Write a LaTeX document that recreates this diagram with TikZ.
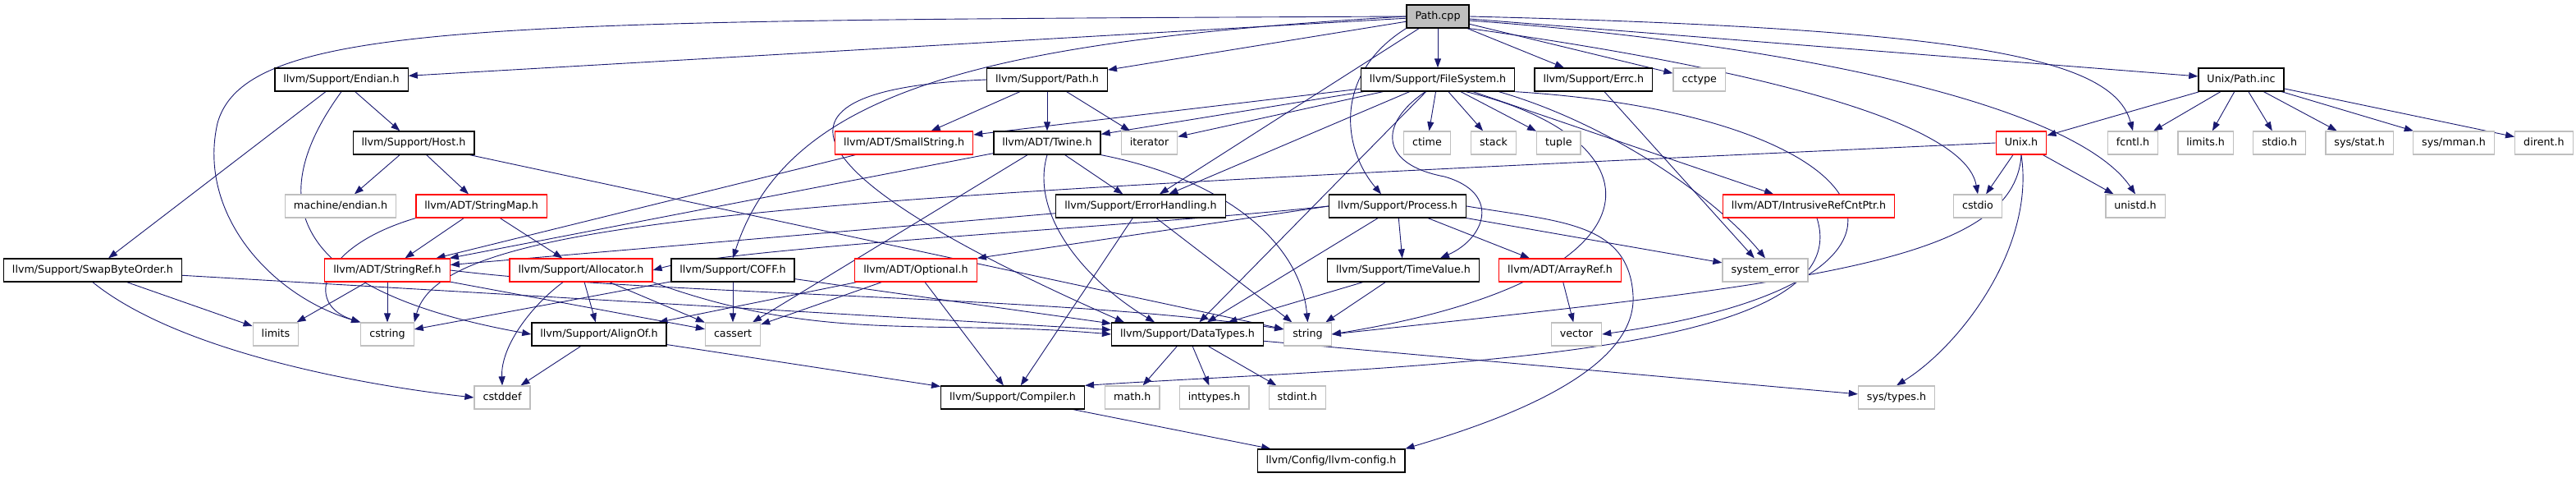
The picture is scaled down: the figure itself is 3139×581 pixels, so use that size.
\documentclass[tikz,border=0pt]{standalone}
\usepackage{fontspec}
\setmainfont{DejaVu Sans}
\usetikzlibrary{arrows.meta, positioning}
\definecolor{edgeblue}{HTML}{191970}
\definecolor{sysgray}{HTML}{BFBFBF}
\pgfdeclarelayer{edges}
\pgfsetlayers{edges,main}

\begin{document}
\begin{tikzpicture}[x=1pt, y=-1pt,
    hdr/.style={rectangle, draw=black, line width=1.3pt, fill=white, minimum height=28pt,
      inner xsep=10.5pt, inner ysep=0pt, text height=9.5pt, text depth=2.7pt,
      font=\fontsize{12.7}{15}\selectfont},
    sys/.style={hdr, draw=sysgray},
    trunc/.style={hdr, draw=red},
    root/.style={hdr, fill=sysgray},
    inc/.style={-{Triangle[length=11pt, width=8pt]}, draw=edgeblue, line width=0.9pt}
  ]
    \useasboundingbox (0,0) rectangle (3139,581);

    \node[root] (pc) at (1752,20) {Path.cpp};

    \node[hdr] (endian) at (416,97) {llvm/Support/Endian.h};
    \node[hdr] (pathh) at (1276,97) {llvm/Support/Path.h};
    \node[hdr] (fs) at (1752,97) {llvm/Support/FileSystem.h};
    \node[hdr, right=23pt of fs] (errc) {llvm/Support/Errc.h};
    \node[sys, right=24pt of errc] (cctype) {cctype};
    \node[hdr] (pathinc) at (2731,97) {Unix/Path.inc};

    \node[hdr] (host) at (504,174) {llvm/Support/Host.h};
    \node[hdr] (twine) at (1276,174) {llvm/ADT/Twine.h};
    \node[trunc, left=24pt of twine] (smallstr) {llvm/ADT/SmallString.h};
    \node[sys, right=24pt of twine] (iterator) {iterator};
    \node[sys] (ctime) at (1739,174) {ctime};
    \node[sys, right=24pt of ctime] (stack) {stack};
    \node[sys, right=24pt of stack] (tuple) {tuple};
    \node[trunc] (unixh) at (2463,174) {Unix.h};
    \node[sys] (fcntl) at (2599,174) {fcntl.h};
    \node[sys, right=23pt of fcntl] (limitsh) {limits.h};
    \node[sys, right=23pt of limitsh] (stdioh) {stdio.h};
    \node[sys, right=23pt of stdioh] (sysstat) {sys/stat.h};
    \node[sys, right=23pt of sysstat] (sysmman) {sys/mman.h};
    \node[sys, right=24pt of sysmman] (dirent) {dirent.h};

    \node[sys] (mendian) at (415,251) {machine/endian.h};
    \node[trunc, right=23pt of mendian] (strmap) {llvm/ADT/StringMap.h};
    \node[hdr] (errh) at (1390,251) {llvm/Support/ErrorHandling.h};
    \node[hdr] (process) at (1703,251) {llvm/Support/Process.h};
    \node[trunc] (ircp) at (2204,251) {llvm/ADT/IntrusiveRefCntPtr.h};
    \node[sys] (cstdio) at (2410,251) {cstdio};
    \node[sys] (unistd) at (2602,251) {unistd.h};

    \node[hdr] (swap) at (113,329) {llvm/Support/SwapByteOrder.h};
    \node[trunc] (strref) at (472,329) {llvm/ADT/StringRef.h};
    \node[trunc] (alloc) at (708,329) {llvm/Support/Allocator.h};
    \node[hdr] (coff) at (893,329) {llvm/Support/COFF.h};
    \node[trunc] (optional) at (1116,329) {llvm/ADT/Optional.h};
    \node[hdr] (timeval) at (1710,329) {llvm/Support/TimeValue.h};
    \node[trunc, right=23pt of timeval] (arrayref) {llvm/ADT/ArrayRef.h};
    \node[sys] (syserr) at (2151,329) {system\_error};

    \node[sys] (limits) at (336,407) {limits};
    \node[sys] (cstring) at (472,407) {cstring};
    \node[hdr] (alignof) at (730,407) {llvm/Support/AlignOf.h};
    \node[sys] (cassert) at (893,407) {cassert};
    \node[hdr] (datatypes) at (1447,407) {llvm/Support/DataTypes.h};
    \node[sys, right=24pt of datatypes] (string) {string};
    \node[sys] (vector) at (1921,407) {vector};

    \node[sys] (cstddef) at (612,484) {cstddef};
    \node[hdr] (compiler) at (1234,484) {llvm/Support/Compiler.h};
    \node[sys, right=24pt of compiler] (math) {math.h};
    \node[sys, right=23pt of math] (inttypes) {inttypes.h};
    \node[sys, right=23pt of inttypes] (stdint) {stdint.h};
    \node[sys] (systypes) at (2311,484) {sys/types.h};

    \node[hdr] (config) at (1622,561) {llvm/Config/llvm-config.h};

    \begin{pgfonlayer}{edges}
    \draw[inc] (pc) -- (endian);
    \draw[inc] (pc) -- (pathh);
    \draw[inc] (pc) -- (fs);
    \draw[inc] (pc) -- (errc);
    \draw[inc] (pc) -- (cctype);
    \draw[inc] (pc) -- (pathinc);
    \draw[inc] (pc.east) .. controls (2400,35) and (2575,70) .. (fcntl.north);
    \draw[inc] ([yshift=-5pt]pc.east) .. controls (2200,55) and (2530,130) .. (unistd.north);
    \draw[inc] (pc.south east) .. controls (2150,85) and (2395,150) .. (cstdio.north);
    \draw[inc] (pc.south west) .. controls (1625,90) and (1635,180) .. ([xshift=-20pt]process.north);
    \draw[inc] (pc) -- (errh);
    \draw[inc] (pc.west) .. controls (1200,50) and (960,110) .. (coff.north);
    \draw[inc] (pc.west) .. controls (600,25) and (300,25) .. (265,150)
      .. controls (240,260) and (330,360) .. (cstring.north west);

    \draw[inc] (endian) -- (host);
    \draw[inc] (endian) -- (swap);
    \draw[inc] (endian.south) .. controls (330,230) and (330,350) .. (alignof.west);

    \draw[inc] (pathh) -- (smallstr);
    \draw[inc] (pathh) -- (twine);
    \draw[inc] (pathh) -- (iterator);
    \draw[inc] (pathh.west) .. controls (880,110) and (1000,230) .. ([xshift=16pt]datatypes.north west);

    \draw[inc] (fs) -- (smallstr);
    \draw[inc] (fs) -- (twine);
    \draw[inc] (fs) -- (iterator);
    \draw[inc] (fs) -- (errh);
    \draw[inc] (fs) -- (datatypes);
    \draw[inc] ([xshift=-15pt]fs.south) .. controls (1680,150) and (1680,200) .. (1760,215)
      .. controls (1830,235) and (1810,290) .. ([xshift=45pt]timeval.north);
    \draw[inc] (fs) -- (ctime);
    \draw[inc] (fs) -- (stack);
    \draw[inc] (fs) -- (tuple);
    \draw[inc] ([xshift=-60pt]fs.south east) .. controls (2030,170) and (2040,340) .. (string.east);
    \draw[inc] ([xshift=-20pt]fs.south east) .. controls (1960,150) and (2090,240) .. (syserr.north);
    \draw[inc] (fs) -- (ircp);
    \draw[inc] (fs.south east) .. controls (2300,140) and (2420,340) .. (vector.east);

    \draw[inc] (errc) -- (syserr);

    \draw[inc] (pathinc) -- (unixh);
    \draw[inc] (pathinc) -- (fcntl);
    \draw[inc] (pathinc) -- (limitsh);
    \draw[inc] (pathinc) -- (stdioh);
    \draw[inc] (pathinc) -- (sysstat);
    \draw[inc] (pathinc) -- (sysmman);
    \draw[inc] (pathinc) -- (dirent);

    \draw[inc] (host) -- (mendian);
    \draw[inc] (host) -- (strmap);
    \draw[inc] (host) -- (string);

    \draw[inc] (smallstr) -- (strref);

    \draw[inc] (twine) -- (strref);
    \draw[inc] (twine) -- (errh);
    \draw[inc] (twine) -- (cassert);
    \draw[inc] (twine.south) .. controls (1255,260) and (1320,340) .. ([xshift=-40pt]datatypes.north);
    \draw[inc] (twine.south east) .. controls (1500,220) and (1585,300) .. (string.north);

    \draw[inc] (unixh) -- (cstdio);
    \draw[inc] (unixh) -- (unistd);
    \draw[inc] (unixh.west) .. controls (1000,240) and (540,260) .. (cstring.north east);
    \draw[inc] (unixh.south) .. controls (2455,320) and (2200,345) .. (string.east);
    \draw[inc] (unixh.south) .. controls (2480,300) and (2390,420) .. (systypes.north);

    \draw[inc] (strmap.south west) .. controls (390,300) and (370,370) .. (cstring.north west);
    \draw[inc] (strmap) -- (strref);
    \draw[inc] (strmap) -- (alloc);

    \draw[inc] (errh) -- (strref);
    \draw[inc] (errh) -- (compiler);
    \draw[inc] (errh) -- (string);

    \draw[inc] (process) -- (timeval);
    \draw[inc] (process) -- (arrayref);
    \draw[inc] (process.west) -- (optional.north east);
    \draw[inc] (process.west) .. controls (1400,275) and (900,300) .. (alloc.east);
    \draw[inc] (process) -- (datatypes);
    \draw[inc] (process) -- (syserr);
    \draw[inc] (process.east) .. controls (1900,270) and (1985,270) .. (1990,360)
      .. controls (1995,460) and (1800,520) .. (config.north east);

    \draw[inc] ([xshift=10pt]ircp.south) .. controls (2270,440) and (1700,445) .. (compiler.north east);

    \draw[inc] (swap) -- (limits);
    \draw[inc] (swap.south) .. controls (220,430) and (450,470) .. (cstddef.west);
    \draw[inc] (swap) -- (datatypes);

    \draw[inc] (strref) -- (limits);
    \draw[inc] (strref) -- (cstring);
    \draw[inc] (strref) -- (cassert);
    \draw[inc] (strref.east) .. controls (800,360) and (1300,360) .. ([yshift=6pt]string.west);

    \draw[inc] ([xshift=-22pt]alloc.south) .. controls (650,370) and (610,420) .. (cstddef.north);
    \draw[inc] (alloc) -- (alignof);
    \draw[inc] (alloc) -- (cassert);
    \draw[inc] (alloc.south east) to[out=-20, in=175] (datatypes.west);

    \draw[inc] (coff) -- (cassert);
    \draw[inc] (coff) -- (cstring);
    \draw[inc] (coff) -- (datatypes);

    \draw[inc] (optional) -- (alignof);
    \draw[inc] (optional) -- (cassert);
    \draw[inc] (optional) -- (compiler);

    \draw[inc] (timeval) -- (datatypes);
    \draw[inc] (timeval) -- (string);

    \draw[inc] (arrayref) -- (vector);

    \draw[inc] (alignof) -- (cstddef);
    \draw[inc] (alignof) -- (compiler);

    \draw[inc] (datatypes) -- (math);
    \draw[inc] (datatypes) -- (inttypes);
    \draw[inc] (datatypes) -- (stdint);
    \draw[inc] (datatypes) -- (systypes);

    \draw[inc] (compiler) -- (config);
    \end{pgfonlayer}
\end{tikzpicture}
\end{document}
